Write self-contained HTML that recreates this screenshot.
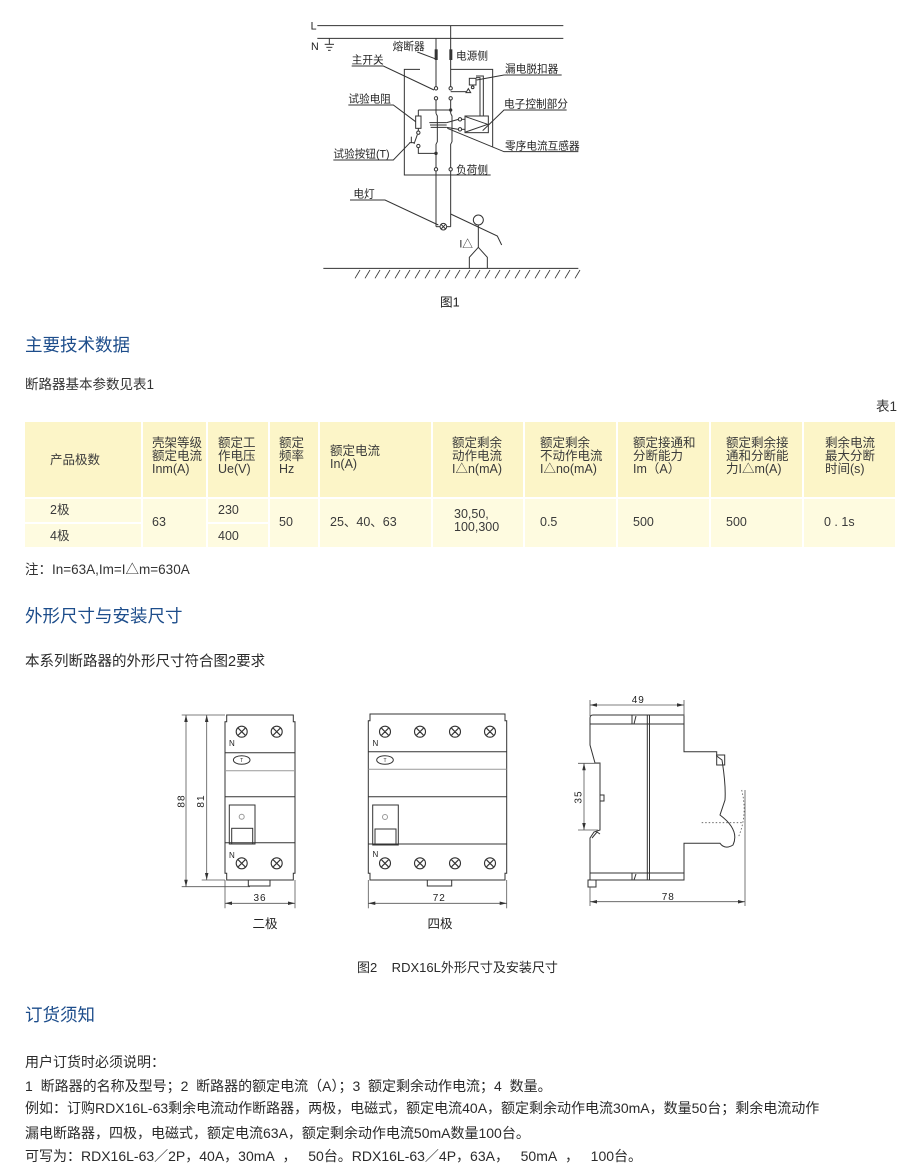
<!DOCTYPE html>
<html><head><meta charset="utf-8">
<style>
html,body{margin:0;padding:0;background:#fff;}
body{width:920px;height:1169px;position:relative;overflow:hidden;font-family:"Liberation Sans","Noto Sans CJK SC",sans-serif;color:#333;}
.t{position:absolute;white-space:nowrap;}
.h{font-size:17.5px;color:#1d4d8b;line-height:24px;}
.p{font-size:14px;line-height:20px;color:#2a2a2a;}
.c{position:absolute;}
.hd{background:#fcf5c8;}
.bd{background:#fefbe0;}
.tx{position:absolute;font-size:12.5px;line-height:13.4px;color:#3a3a3a;white-space:nowrap;}
</style></head><body>

<!-- Figure 1 circuit -->
<svg style="position:absolute;left:300px;top:10px" width="300" height="300" viewBox="0 0 900 900">
<g stroke="#333" stroke-width="3" fill="none">
<line x1="52" y1="47" x2="790" y2="47"/>
<line x1="52" y1="85" x2="790" y2="85"/>
<line x1="88" y1="85" x2="88" y2="103"/>
<line x1="74" y1="103" x2="102" y2="103"/>
<line x1="79" y1="112" x2="97" y2="112"/>
<line x1="84" y1="121" x2="92" y2="121"/>
<!-- right wire 452 -->
<line x1="452" y1="47" x2="452" y2="230"/>
<line x1="452" y1="270" x2="452" y2="310"/>
<polyline points="452,310 456,318 456,395 452,403 452,473"/>
<line x1="452" y1="483" x2="452" y2="650"/>
<!-- left wire 408 -->
<line x1="408" y1="85" x2="408" y2="230"/>
<line x1="408" y1="270" x2="408" y2="310"/>
<polyline points="408,310 412,318 412,395 408,403 408,473"/>
<line x1="408" y1="483" x2="408" y2="650"/>
<!-- contacts -->
<circle cx="408" cy="235" r="5"/><circle cx="452" cy="235" r="5"/>
<circle cx="408" cy="265" r="5"/><circle cx="452" cy="265" r="5"/>
<circle cx="408" cy="478" r="5"/><circle cx="452" cy="478" r="5"/>
<!-- box -->
<polyline points="360,178 313,178 313,495 572,495"/>
<polyline points="452,178 578,178 578,410"/>
<!-- trip -->
<line x1="452" y1="245" x2="498" y2="245"/>
<polygon points="498,248 512,248 505,236"/>
<rect x="508" y="205" width="20" height="20"/>
<circle cx="518" cy="232" r="4"/>
<polyline points="528,203 540,203 540,318"/>
<polyline points="528,198 550,198 550,318"/>
<!-- electronic box -->
<rect x="495" y="318" width="70" height="50"/>
<polyline points="497,320 563,343 497,366"/>
<circle cx="480" cy="328" r="5"/><circle cx="480" cy="358" r="5"/>
<line x1="485" y1="328" x2="495" y2="328"/>
<line x1="485" y1="358" x2="495" y2="358"/>
<line x1="475" y1="328" x2="440" y2="338"/>
<line x1="475" y1="358" x2="440" y2="352"/>
<line x1="388" y1="338" x2="440" y2="338"/>
<line x1="390" y1="345" x2="440" y2="345"/>
<line x1="392" y1="352" x2="440" y2="352"/>
<!-- test circuit -->
<line x1="355" y1="300" x2="452" y2="300"/>
<line x1="355" y1="300" x2="355" y2="318"/>
<rect x="347" y="318" width="16" height="37"/>
<line x1="355" y1="355" x2="355" y2="363"/>
<circle cx="355" cy="368" r="5"/>
<circle cx="355" cy="408" r="5"/>
<line x1="352" y1="374" x2="342" y2="402"/>
<line x1="334" y1="380" x2="334" y2="398"/>
<line x1="328" y1="398" x2="342" y2="398"/>
<polyline points="355,413 355,430 408,430"/>
<!-- lamp -->
<line x1="408" y1="650" x2="420" y2="650"/>
<line x1="440" y1="650" x2="452" y2="650"/>
<circle cx="430" cy="650" r="10"/>
<line x1="423" y1="643" x2="437" y2="657"/>
<line x1="437" y1="643" x2="423" y2="657"/>
<!-- person -->
<polyline points="452,612 592,678 605,705"/>
<circle cx="535" cy="630" r="15"/>
<line x1="535" y1="645" x2="535" y2="712"/>
<polyline points="508,775 508,742 535,712 562,742 562,775"/>
<!-- ground -->
<line x1="70" y1="775" x2="835" y2="775"/>
<!-- leaders -->
<line x1="352" y1="126" x2="405" y2="146"/>
<polyline points="155,168 250,168 402,240"/>
<polyline points="785,195 612,195 530,210"/>
<polyline points="145,285 280,285 347,335"/>
<polyline points="800,300 612,300 548,362"/>
<polyline points="100,450 280,450 330,398"/>
<polyline points="835,425 612,425 442,355"/>
<polyline points="150,570 255,570 415,645"/>
</g>
<g stroke="#333" stroke-width="2.5">
<line x1="180" y1="780" x2="165" y2="805"/><line x1="210" y1="780" x2="195" y2="805"/>
<line x1="240" y1="780" x2="225" y2="805"/><line x1="270" y1="780" x2="255" y2="805"/>
<line x1="300" y1="780" x2="285" y2="805"/><line x1="330" y1="780" x2="315" y2="805"/>
<line x1="360" y1="780" x2="345" y2="805"/><line x1="390" y1="780" x2="375" y2="805"/>
<line x1="420" y1="780" x2="405" y2="805"/><line x1="450" y1="780" x2="435" y2="805"/>
<line x1="480" y1="780" x2="465" y2="805"/><line x1="510" y1="780" x2="495" y2="805"/>
<line x1="540" y1="780" x2="525" y2="805"/><line x1="570" y1="780" x2="555" y2="805"/>
<line x1="600" y1="780" x2="585" y2="805"/><line x1="630" y1="780" x2="615" y2="805"/>
<line x1="660" y1="780" x2="645" y2="805"/><line x1="690" y1="780" x2="675" y2="805"/>
<line x1="720" y1="780" x2="705" y2="805"/><line x1="750" y1="780" x2="735" y2="805"/>
<line x1="780" y1="780" x2="765" y2="805"/><line x1="810" y1="780" x2="795" y2="805"/>
<line x1="840" y1="780" x2="825" y2="805"/>
</g>
<g fill="#333">
<rect x="404" y="118" width="9" height="32"/>
<rect x="448" y="118" width="9" height="32"/>
<circle cx="452" cy="300" r="5"/>
<circle cx="408" cy="430" r="5"/>
</g>
<g fill="#222" font-size="32" font-family="Liberation Sans, Noto Sans CJK SC, sans-serif">
<text x="32" y="58">L</text>
<text x="33" y="120">N</text>
<text x="278" y="120">熔断器</text>
<text x="468" y="148">电源侧</text>
<text x="155" y="160">主开关</text>
<text x="615" y="188">漏电脱扣器</text>
<text x="145" y="277">试验电阻</text>
<text x="612" y="292">电子控制部分</text>
<text x="100" y="442">试验按钮(T)</text>
<text x="615" y="418">零序电流互感器</text>
<text x="468" y="490">负荷侧</text>
<text x="160" y="562">电灯</text>
<text x="478" y="712">I△</text>
<text x="420" y="890" font-size="38">图1</text>
</g>
</svg>

<div class="t h" style="left:25px;top:333px;">主要技术数据</div>
<div class="t" style="left:25px;top:375px;font-size:13.5px;line-height:20px;">断路器基本参数见表1</div>
<div class="t" style="left:876px;top:397px;font-size:13.5px;line-height:20px;">表1</div>

<!-- table -->
<div class="c hd" style="left:25px;top:422px;width:116px;height:75px;"></div>
<div class="c hd" style="left:143px;top:422px;width:63px;height:75px;"></div>
<div class="c hd" style="left:208px;top:422px;width:60px;height:75px;"></div>
<div class="c hd" style="left:270px;top:422px;width:48px;height:75px;"></div>
<div class="c hd" style="left:320px;top:422px;width:111px;height:75px;"></div>
<div class="c hd" style="left:433px;top:422px;width:90px;height:75px;"></div>
<div class="c hd" style="left:525px;top:422px;width:91px;height:75px;"></div>
<div class="c hd" style="left:618px;top:422px;width:91px;height:75px;"></div>
<div class="c hd" style="left:711px;top:422px;width:91px;height:75px;"></div>
<div class="c hd" style="left:804px;top:422px;width:91px;height:75px;"></div>

<div class="c bd" style="left:25px;top:499px;width:116px;height:23px;"></div>
<div class="c bd" style="left:25px;top:524px;width:116px;height:23px;"></div>
<div class="c bd" style="left:143px;top:499px;width:63px;height:48px;"></div>
<div class="c bd" style="left:208px;top:499px;width:60px;height:23px;"></div>
<div class="c bd" style="left:208px;top:524px;width:60px;height:23px;"></div>
<div class="c bd" style="left:270px;top:499px;width:48px;height:48px;"></div>
<div class="c bd" style="left:320px;top:499px;width:111px;height:48px;"></div>
<div class="c bd" style="left:433px;top:499px;width:90px;height:48px;"></div>
<div class="c bd" style="left:525px;top:499px;width:91px;height:48px;"></div>
<div class="c bd" style="left:618px;top:499px;width:91px;height:48px;"></div>
<div class="c bd" style="left:711px;top:499px;width:91px;height:48px;"></div>
<div class="c bd" style="left:804px;top:499px;width:91px;height:48px;"></div>

<div class="tx" style="left:50px;top:454px;">产品极数</div>
<div class="tx" style="left:152px;top:436.5px;">壳架等级<br>额定电流<br>Inm(A)</div>
<div class="tx" style="left:218px;top:436.5px;">额定工<br>作电压<br>Ue(V)</div>
<div class="tx" style="left:279px;top:436.5px;">额定<br>频率<br>Hz</div>
<div class="tx" style="left:330px;top:445px;">额定电流<br>In(A)</div>
<div class="tx" style="left:452px;top:436.5px;">额定剩余<br>动作电流<br>I△n(mA)</div>
<div class="tx" style="left:540px;top:436.5px;">额定剩余<br>不动作电流<br>I△no(mA)</div>
<div class="tx" style="left:633px;top:436.5px;">额定接通和<br>分断能力<br>Im（A）</div>
<div class="tx" style="left:726px;top:436.5px;">额定剩余接<br>通和分断能<br>力I△m(A)</div>
<div class="tx" style="left:825px;top:436.5px;">剩余电流<br>最大分断<br>时间(s)</div>

<div class="tx" style="left:50px;top:504px;">2极</div>
<div class="tx" style="left:50px;top:530px;">4极</div>
<div class="tx" style="left:152px;top:516px;">63</div>
<div class="tx" style="left:218px;top:504px;">230</div>
<div class="tx" style="left:218px;top:530px;">400</div>
<div class="tx" style="left:279px;top:516px;">50</div>
<div class="tx" style="left:330px;top:516px;">25、40、63</div>
<div class="tx" style="left:454px;top:508px;">30,50,<br>100,300</div>
<div class="tx" style="left:540px;top:516px;">0.5</div>
<div class="tx" style="left:633px;top:516px;">500</div>
<div class="tx" style="left:726px;top:516px;">500</div>
<div class="tx" style="left:824px;top:516px;">0 . 1s</div>

<div class="t" style="left:25px;top:560px;font-size:13.5px;line-height:20px;">注：In=63A,Im=I△m=630A</div>

<div class="t h" style="left:25px;top:604px;">外形尺寸与安装尺寸</div>
<div class="t p" style="left:25px;top:652px;font-size:14.5px;">本系列断路器的外形尺寸符合图2要求</div>

<!-- Figure 2 -->
<svg style="position:absolute;left:0;top:680px" width="920" height="260" viewBox="0 680 920 260">
<defs>
<marker id="a" viewBox="0 0 10 10" refX="10" refY="5" markerWidth="7" markerHeight="7" markerUnits="userSpaceOnUse" orient="auto-start-reverse"><path d="M0,2.5 L10,5 L0,7.5 z" fill="#333"/></marker>
</defs>
<g stroke="#333" stroke-width="1" fill="none">
<!-- 2-pole -->
<path d="M226.7 715 H293.3 V721.7 H295 V873.3 H293.3 V880 H226.7 V873.3 H225 V721.7 H226.7 Z"/>
<line x1="225" y1="752.7" x2="295" y2="752.7"/>
<line x1="225" y1="770.7" x2="295" y2="770.7" stroke="#999"/>
<line x1="225" y1="796.7" x2="295" y2="796.7"/>
<line x1="225" y1="842.7" x2="295" y2="842.7"/>
<ellipse cx="241.7" cy="760" rx="8.3" ry="4.3"/>
<rect x="229.3" y="805" width="25.7" height="39"/>
<rect x="231.7" y="828.3" width="21" height="15.7"/>
<circle cx="241.7" cy="816.7" r="2.5" stroke="#999"/>
<rect x="248.3" y="880" width="21.7" height="6"/>
<!-- 4-pole -->
<path d="M370 714 H505 V720.7 H506.7 V873.3 H505 V880 H370 V873.3 H368.3 V720.7 H370 Z"/>
<line x1="368.3" y1="751.7" x2="506.7" y2="751.7"/>
<line x1="368.3" y1="769.3" x2="506.7" y2="769.3" stroke="#999"/>
<line x1="368.3" y1="796.7" x2="506.7" y2="796.7"/>
<line x1="368.3" y1="844" x2="506.7" y2="844"/>
<ellipse cx="385" cy="760" rx="8.3" ry="4.3"/>
<rect x="372.7" y="805" width="25.6" height="40"/>
<rect x="375" y="829" width="21" height="16"/>
<circle cx="385" cy="817" r="2.5" stroke="#999"/>
<rect x="427.3" y="880" width="24.4" height="6"/>
<!-- side view -->
<path d="M593 715 H684 V751.7 H716.7 V756 L722 760 Q726 785 725 800 L720 815 Q740 830 733 845 Q725 850 720 843.3 H684 V880 H590 V838 L594 832 L600 830 V763 H595 L590 745 V718 Q590 715 593 715 Z"/>
<rect x="716.7" y="755" width="8" height="10"/>
<line x1="590" y1="724" x2="684" y2="724"/>
<line x1="590" y1="873" x2="684" y2="873"/>
<line x1="647.3" y1="715" x2="647.3" y2="880"/>
<line x1="649.5" y1="715" x2="649.5" y2="880"/>
<line x1="632" y1="715" x2="632" y2="724"/><line x1="636" y1="716" x2="634" y2="724"/>
<line x1="632" y1="873" x2="632" y2="880"/><line x1="636" y1="874" x2="634" y2="880"/>
<rect x="600" y="795" width="4" height="6"/>
<rect x="588" y="880" width="8" height="7"/>
<path d="M592 838 L597 832 L600 834"/>
</g>
<g fill="none" stroke="#333" stroke-width="1.1">
<circle cx="241.7" cy="731.7" r="5.5"/><circle cx="276.7" cy="731.7" r="5.5"/>
<circle cx="241.7" cy="863.3" r="5.5"/><circle cx="276.7" cy="863.3" r="5.5"/>
<circle cx="385" cy="731.7" r="5.5"/><circle cx="420" cy="731.7" r="5.5"/><circle cx="455" cy="731.7" r="5.5"/><circle cx="490" cy="731.7" r="5.5"/>
<circle cx="385" cy="863.3" r="5.5"/><circle cx="420" cy="863.3" r="5.5"/><circle cx="455" cy="863.3" r="5.5"/><circle cx="490" cy="863.3" r="5.5"/>
<path d="M238.2 728.2l7 7m0-7l-7 7 M273.2 728.2l7 7m0-7l-7 7 M238.2 859.8l7 7m0-7l-7 7 M273.2 859.8l7 7m0-7l-7 7"/>
<path d="M381.5 728.2l7 7m0-7l-7 7 M416.5 728.2l7 7m0-7l-7 7 M451.5 728.2l7 7m0-7l-7 7 M486.5 728.2l7 7m0-7l-7 7"/>
<path d="M381.5 859.8l7 7m0-7l-7 7 M416.5 859.8l7 7m0-7l-7 7 M451.5 859.8l7 7m0-7l-7 7 M486.5 859.8l7 7m0-7l-7 7"/>
</g>
<!-- dimension lines -->
<g stroke="#555" stroke-width="0.8" fill="none">
<line x1="181.7" y1="715" x2="225" y2="715"/>
<line x1="181.7" y1="886.7" x2="250" y2="886.7"/>
<line x1="201.7" y1="880" x2="225" y2="880"/>
<line x1="186" y1="715" x2="186" y2="886.7" marker-start="url(#a)" marker-end="url(#a)"/>
<line x1="206.7" y1="715" x2="206.7" y2="880" marker-start="url(#a)" marker-end="url(#a)"/>
<line x1="225" y1="880" x2="225" y2="908.3"/>
<line x1="295" y1="880" x2="295" y2="908.3"/>
<line x1="225" y1="903.3" x2="295" y2="903.3" marker-start="url(#a)" marker-end="url(#a)"/>
<line x1="368.3" y1="880" x2="368.3" y2="908.3"/>
<line x1="506.7" y1="880" x2="506.7" y2="908.3"/>
<line x1="368.3" y1="903.3" x2="506.7" y2="903.3" marker-start="url(#a)" marker-end="url(#a)"/>
<line x1="590" y1="700" x2="590" y2="716"/>
<line x1="684" y1="700" x2="684" y2="716"/>
<line x1="590" y1="705" x2="684" y2="705" marker-start="url(#a)" marker-end="url(#a)"/>
<line x1="578" y1="763.3" x2="600" y2="763.3"/>
<line x1="578" y1="830" x2="598" y2="830"/>
<line x1="584" y1="763.3" x2="584" y2="830" marker-start="url(#a)" marker-end="url(#a)"/>
<line x1="590" y1="887" x2="590" y2="906"/>
<line x1="745" y1="790" x2="745" y2="906"/>
<line x1="590" y1="901.7" x2="745" y2="901.7" marker-start="url(#a)" marker-end="url(#a)"/>
<line x1="701.7" y1="822.7" x2="743.3" y2="822.7" stroke-dasharray="1.5,2"/>
<path d="M741.7 790 Q748 815 738 838" stroke-dasharray="1.5,2"/>
</g>
<g fill="#222" font-family="Liberation Sans, Noto Sans CJK SC, sans-serif">
<text x="229" y="746" font-size="8">N</text>
<text x="229" y="858" font-size="8">N</text>
<text x="372.5" y="746" font-size="8">N</text>
<text x="372.5" y="857" font-size="8">N</text>
<text x="241.7" y="762" font-size="5" text-anchor="middle">T</text>
<text x="385" y="762" font-size="5" text-anchor="middle">T</text>
<text x="260" y="901" font-size="10" text-anchor="middle" letter-spacing="1">36</text>
<text x="439.3" y="901" font-size="10" text-anchor="middle" letter-spacing="1">72</text>
<text x="638.3" y="703" font-size="10" text-anchor="middle" letter-spacing="1">49</text>
<text x="668.3" y="900" font-size="10" text-anchor="middle" letter-spacing="1">78</text>
<text transform="translate(184.5,801) rotate(-90)" font-size="10" text-anchor="middle" letter-spacing="1">88</text>
<text transform="translate(204,801) rotate(-90)" font-size="10" text-anchor="middle" letter-spacing="1">81</text>
<text transform="translate(581.5,797) rotate(-90)" font-size="10" text-anchor="middle" letter-spacing="1">35</text>
<text x="265" y="928" font-size="12.5" text-anchor="middle">二极</text>
<text x="440" y="928" font-size="12.5" text-anchor="middle">四极</text>
</g>
</svg>

<div class="t" style="left:357px;top:958px;font-size:13px;line-height:20px;color:#2a2a2a;">图2&nbsp;&nbsp;&nbsp;&nbsp;RDX16L外形尺寸及安装尺寸</div>

<div class="t h" style="left:25px;top:1003px;">订货须知</div>
<div class="t p" style="left:25px;top:1052px;">用户订货时必须说明：</div>
<div class="t p" style="left:25px;top:1076px;">1&nbsp;&nbsp;断路器的名称及型号；2&nbsp;&nbsp;断路器的额定电流（A）；3&nbsp;&nbsp;额定剩余动作电流；4&nbsp;&nbsp;数量。</div>
<div class="t p" style="left:25px;top:1098px;">例如：订购RDX16L-63剩余电流动作断路器，两极，电磁式，额定电流40A，额定剩余动作电流30mA，数量50台；剩余电流动作</div>
<div class="t p" style="left:25px;top:1123px;">漏电断路器，四极，电磁式，额定电流63A，额定剩余动作电流50mA数量100台。</div>
<div class="t p" style="left:25px;top:1146px;">可写为：RDX16L-63／2P，40A，30mA&nbsp;&nbsp;，&nbsp;&nbsp;&nbsp;50台。RDX16L-63／4P，63A，&nbsp;&nbsp;&nbsp;50mA&nbsp;&nbsp;，&nbsp;&nbsp;&nbsp;100台。</div>

</body></html>
